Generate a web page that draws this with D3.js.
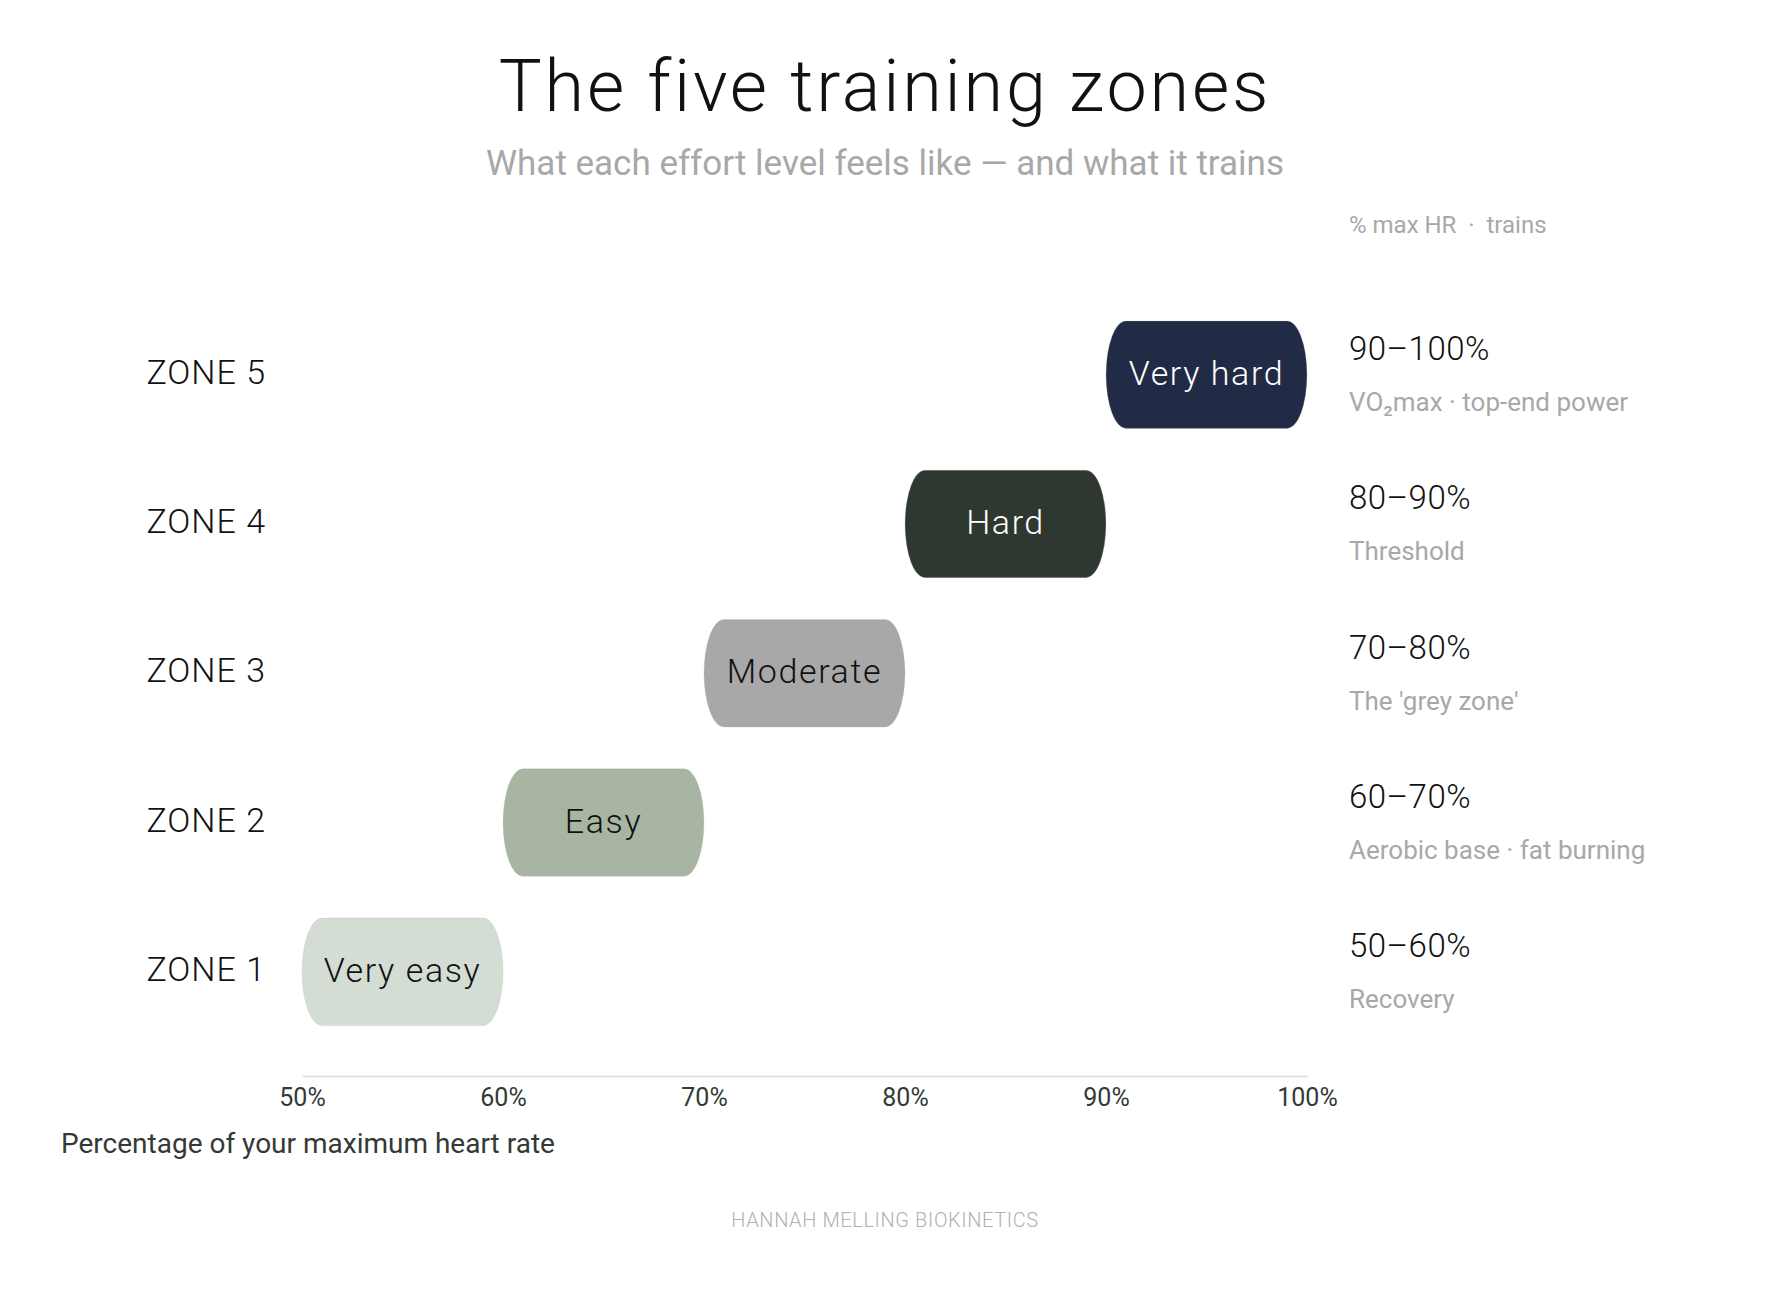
<!DOCTYPE html>
<html>
<head>
<meta charset="utf-8">
<script src="https://cdn.jsdelivr.net/npm/d3@7"></script>
<style>
  body { margin: 0; background: #fff; }
  text { font-family: Roboto, "Noto Sans", sans-serif; }
</style>
</head>
<body>
<div class="chart"></div>
<script>
// chart values
const zones = ['ZONE 5', 'ZONE 4', 'ZONE 3', 'ZONE 2', 'ZONE 1']
const lows = [90, 80, 70, 60, 50]
const highs = [100, 90, 80, 70, 60]
const feels = ['Very hard', 'Hard', 'Moderate', 'Easy', 'Very easy']
const trains = ['VO\u2082max \u00b7 top-end power', 'Threshold', "The 'grey zone'", 'Aerobic base \u00b7 fat burning', 'Recovery']
const ticks = [50, 60, 70, 80, 90, 100]
const palette = ['#212b45', '#2f3830', '#a8a8a8', '#a9b5a3', '#d3ddd3']
const inkOn = ['#ffffff', '#ffffff', '#111111', '#111111', '#111111']

const width = 1790
const height = 1291
const cx = 885

const rows = zones.map((z, i) => ({ zone: z, lo: lows[i], hi: highs[i], feel: feels[i], train: trains[i] }))

const x = d3.scaleLinear().domain([50, 100]).range([302, 1307])
const y = d3.scaleBand().domain(zones).range([300, 1046.5]).paddingInner(0.28).paddingOuter(0.14)
const fill = d3.scaleOrdinal().domain(zones).range(palette)
const ink = d3.scaleOrdinal().domain(zones).range(inkOn)

const svg = d3.select('.chart')
  .append('svg')
  .attr('width', width)
  .attr('height', height)

// title block
svg.append('text')
  .attr('x', cx).attr('y', 111)
  .attr('text-anchor', 'middle')
  .style('font-size', '72px').style('font-weight', 300).style('letter-spacing', '2.8px')
  .attr('fill', '#111')
  .text('The five training zones')

svg.append('text')
  .attr('x', cx).attr('y', 175)
  .attr('text-anchor', 'middle')
  .style('font-size', '35px').style('font-weight', 400)
  .attr('fill', '#a8a8a8')
  .text('What each effort level feels like \u2014 and what it trains')

svg.append('text')
  .attr('x', 1349).attr('y', 233)
  .style('font-size', '24px').style('white-space', 'pre')
  .attr('fill', '#a8a8a8')
  .text('% max HR  \u00b7  trains')

// bars
const row = svg.selectAll('g.row')
  .data(rows)
  .enter()
  .append('g')
  .attr('class', 'row')

row.append('rect')
  .attr('x', d => x(d.lo))
  .attr('y', d => y(d.zone))
  .attr('width', d => x(d.hi) - x(d.lo))
  .attr('height', y.bandwidth())
  .attr('rx', 20)
  .attr('ry', y.bandwidth() / 2)
  .attr('fill', d => fill(d.zone))
  .attr('stroke', '#b8b8b8')
  .attr('stroke-opacity', 0.25)
  .attr('stroke-width', 1)

row.append('text')
  .attr('x', d => (x(d.lo) + x(d.hi)) / 2)
  .attr('y', d => y(d.zone) + y.bandwidth() / 2 + 10)
  .attr('text-anchor', 'middle')
  .style('font-size', '34px').style('font-weight', 300).style('letter-spacing', '1.6px')
  .attr('fill', d => ink(d.zone))
  .text(d => d.feel)

// zone labels on the left
row.append('text')
  .attr('x', 266)
  .attr('y', d => y(d.zone) + y.bandwidth() / 2 + 9)
  .attr('text-anchor', 'end')
  .style('font-size', '34px').style('font-weight', 300).style('letter-spacing', '1px')
  .attr('fill', '#111')
  .text(d => d.zone)

// range and what it trains on the right
row.append('text')
  .attr('x', 1349)
  .attr('y', d => y(d.zone) + y.bandwidth() / 2 - 14.5)
  .style('font-size', '33px').style('font-weight', 300).style('letter-spacing', '0.5px')
  .attr('fill', '#111')
  .text(d => d.lo + '\u2013' + d.hi + '%')

row.append('text')
  .attr('x', 1349)
  .attr('y', d => y(d.zone) + y.bandwidth() / 2 + 36.5)
  .style('font-size', '26px')
  .attr('fill', '#a8a8a8')
  .text(d => d.train)

// x axis
const xAxis = d3.axisBottom(x)
  .tickValues(ticks)
  .tickFormat(d => d + '%')
  .tickSize(0)
  .tickPadding(12)

const gx = svg.append('g')
  .attr('transform', 'translate(0,1076)')
  .call(xAxis)

gx.select('.domain').attr('stroke', '#e2e2e2').attr('stroke-width', 2)
gx.selectAll('text')
  .style('font-family', 'Roboto, sans-serif')
  .style('font-size', '25px')
  .attr('fill', '#333a35')

svg.append('text')
  .attr('x', 61).attr('y', 1153)
  .style('font-size', '28px')
  .attr('fill', '#333a35')
  .text('Percentage of your maximum heart rate')

svg.append('text')
  .attr('x', cx).attr('y', 1227)
  .attr('text-anchor', 'middle')
  .style('font-size', '20px').style('font-weight', 300).style('letter-spacing', '0.6px')
  .attr('fill', '#b0b0b0')
  .text('HANNAH MELLING BIOKINETICS')
</script>
</body>
</html>
